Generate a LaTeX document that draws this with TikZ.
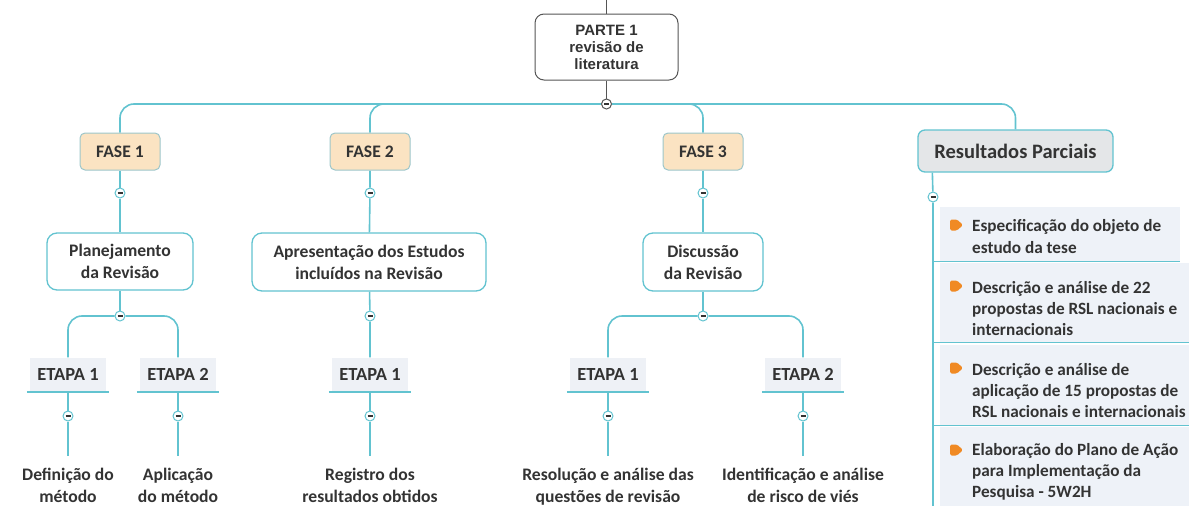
\documentclass[tikz,border=0pt]{standalone}
\usepackage{fontspec}
\setmainfont{Carlito}
\newfontfamily\arialf{Liberation Sans}
\usetikzlibrary{backgrounds,calc}
\definecolor{conn}{HTML}{62C3D0}
\definecolor{txt}{HTML}{333333}
\definecolor{topb}{HTML}{555555}
\definecolor{faseb}{HTML}{9CC6CA}
\definecolor{fasef}{HTML}{FBE3C2}
\definecolor{resf}{HTML}{E4E6E8}
\definecolor{etapaf}{HTML}{EEF1F6}
\definecolor{itemf}{HTML}{EEF2F8}
\definecolor{bul}{HTML}{F08A24}
\begin{document}
\begin{tikzpicture}[x=1pt,y=-1pt,
  every node/.style={text=txt, font=\fontsize{17.6}{22}\selectfont\bfseries},
  conn/.style={draw=conn, line width=1.6pt, rounded corners=14pt},
  topline/.style={draw=topb, line width=1pt},
  hub/.style={circle, draw=conn, fill=white, line width=1pt, minimum size=10pt, inner sep=0pt,
    path picture={\draw[txt, line width=1.2pt] ([xshift=-2.5pt]path picture bounding box.center) -- ([xshift=2.5pt]path picture bounding box.center);}},
  darkhub/.style={hub, draw=topb},
  fase/.style={draw=faseb, fill=fasef, rounded corners=5pt, line width=1pt, minimum width=80pt, minimum height=37pt, inner sep=0pt},
  mainbox/.style={draw=conn, fill=white, rounded corners=10pt, line width=1.3pt, align=center, inner sep=0pt},
  etapa/.style={fill=etapaf, minimum width=76pt, minimum height=34pt, inner sep=0pt, font=\fontsize{18.5}{22}\selectfont\bfseries},
  leaf/.style={align=center, inner xsep=4pt, inner ysep=12pt},
  itembox/.style={fill=itemf, anchor=north west, inner sep=0pt},
  itemtext/.style={anchor=west, align=left, inner sep=0pt, font=\fontsize{17.2}{21.3}\selectfont\bfseries},
]
\useasboundingbox (0,0) rectangle (1189,506);

% top node
\node[draw=topb, fill=white, rounded corners=9pt, line width=1pt, minimum width=143pt, minimum height=66pt,
  align=center, inner sep=0pt, text=txt, font=\arialf\bfseries\fontsize{15}{17}\selectfont] (parte) at (606.5,47) {PARTE 1\\revisão de\\literatura};
\coordinate (ptop) at (606.5,-2);
\node[darkhub] (h0) at (606.5,104) {};

% phases
\node[fase] (f1) at (120,151.5) {FASE 1};
\node[fase] (f2) at (370,151.5) {FASE 2};
\node[fase] (f3) at (703,151.5) {FASE 3};
\node[draw=conn, fill=resf, rounded corners=7pt, line width=1.3pt, minimum width=195pt, minimum height=42pt, inner sep=0pt,
  font=\fontsize{20.5}{24}\selectfont\bfseries] (res) at (1015.5,151) {Resultados Parciais};

\node[hub] (fh1) at (120,193) {};
\node[hub] (fh2) at (370,193) {};
\node[hub] (fh3) at (703,193) {};

% main boxes
\node[mainbox, minimum width=146pt, minimum height=57pt] (p1) at (120,261.5) {Planejamento\\da Revisão};
\node[mainbox, minimum width=234pt, minimum height=58pt] (p2) at (369,262) {Apresentação dos Estudos\\incluídos na Revisão};
\node[mainbox, minimum width=120pt, minimum height=58pt] (p3) at (703,262) {Discussão\\da Revisão};

\node[hub] (ph1) at (120,316) {};
\node[hub] (ph2) at (370,316) {};
\node[hub] (ph3) at (703,316) {};

% etapas
\node[etapa] (e11) at (68,374.5) {ETAPA 1};
\node[etapa] (e12) at (178,374.5) {ETAPA 2};
\node[etapa] (e21) at (370,374.5) {ETAPA 1};
\node[etapa] (e31) at (608,374.5) {ETAPA 1};
\node[etapa] (e32) at (803,374.5) {ETAPA 2};

\node[hub] (eh11) at (68,416) {};
\node[hub] (eh12) at (178,416) {};
\node[hub] (eh21) at (370,416) {};
\node[hub] (eh31) at (608,416) {};
\node[hub] (eh32) at (803,416) {};

% leaves
\node[leaf, anchor=north] (l11) at (68,456) {Definição do\\método};
\node[leaf, anchor=north] (l12) at (178,456) {Aplicação\\do método};
\node[leaf, anchor=north] (l21) at (370,456) {Registro dos\\resultados obtidos};
\node[leaf, anchor=north] (l31) at (608,456) {Resolução e análise das\\questões de revisão};
\node[leaf, anchor=north] (l32) at (803,456) {Identificação e análise\\de risco de viés};

% results list
\coordinate (rs) at ($(res.south west)+(15,0)$);
\node[hub] (rh) at (933,197) {};
\coordinate (tend) at (933,512);
\node[itembox, minimum width=240pt, minimum height=54pt] (b1) at (940,207) {};
\node[itembox, minimum width=260pt, minimum height=79pt] (b2) at (940,263) {};
\node[itembox, minimum width=260pt, minimum height=80pt] (b3) at (940,345) {};
\node[itembox, minimum width=260pt, minimum height=90pt] (b4) at (940,427) {};
\node[itemtext] (t1) at (972,236.5) {Especificação do objeto de\\estudo da tese};
\node[itemtext] (t2) at (972,308.5) {Descrição e análise de 22\\propostas de RSL nacionais e\\internacionais};
\node[itemtext] (t3) at (972,390.5) {Descrição e análise de\\aplicação de 15 propostas de\\RSL nacionais e internacionais};
\node[itemtext] (t4) at (972,472) {Elaboração do Plano de Ação\\para Implementação da\\Pesquisa - 5W2H};
\foreach \yy in {225,286,368,450}{
  \fill[bul, rounded corners=1.5pt] (950,\yy-5.5) -- (957,\yy-5.5) -- (963,\yy) -- (957,\yy+5.5) -- (950,\yy+5.5) -- cycle;
}
\foreach \b in {b1,b2,b3}{
  \draw[conn, rounded corners=0pt, line width=1.4pt] (rh |- \b.south) -- (\b.south east);
}

% connectors
\begin{scope}[on background layer]
\draw[conn] (rs) -- (rh) -- (tend);
\draw[topline] (ptop) -- (parte);
\draw[topline] (parte) -- (h0);
\draw[conn] (h0) -| (f1);
\draw[conn] (h0) -| (f2);
\draw[conn] (h0) -| (f3);
\draw[conn] (h0) -| (res);
\draw[conn] (f1) -- (fh1) -- (p1);
\draw[conn] (f2) -- (fh2) -- (p2);
\draw[conn] (f3) -- (fh3) -- (p3);
\draw[conn] (p1) -- (ph1);
\draw[conn] (ph1) -| (e11);
\draw[conn] (ph1) -| (e12);
\draw[conn] (p2) -- (ph2) -- (e21);
\draw[conn] (p3) -- (ph3);
\draw[conn] (ph3) -| (e31);
\draw[conn] (ph3) -| (e32);
\draw[conn] (e11) -- (eh11) -- (l11);
\draw[conn] (e12) -- (eh12) -- (l12);
\draw[conn] (e21) -- (eh21) -- (l21);
\draw[conn] (e31) -- (eh31) -- (l31);
\draw[conn] (e32) -- (eh32) -- (l32);
\end{scope}
\foreach \n in {e11,e12,e21,e31,e32}{
  \draw[draw=conn, line width=1.6pt] ([xshift=-3pt]\n.south west) -- ([xshift=3pt]\n.south east);
}
\end{tikzpicture}
\end{document}
